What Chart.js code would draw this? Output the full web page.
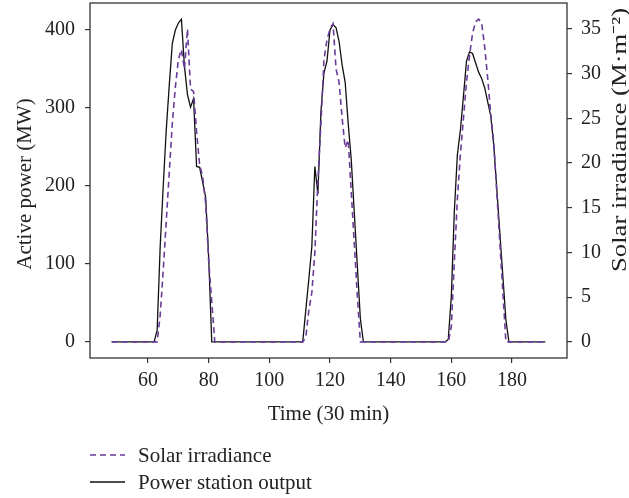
<!DOCTYPE html>
<html>
<head>
<meta charset="utf-8">
<script src="https://cdn.jsdelivr.net/npm/chart.js@4.4.0/dist/chart.umd.min.js"></script>
<style>
html,body{margin:0;padding:0;background:#fff;}
#wrap{position:relative;width:629px;height:498px;overflow:hidden;}
#chart{position:absolute;left:0;top:0;}
.lg{position:absolute;left:90px;height:24px;display:flex;align-items:center;font-family:"Liberation Serif",serif;font-size:21px;color:#222;white-space:nowrap;}
.lg svg{margin-right:13px;}
</style>
</head>
<body>
<div id="wrap">
<canvas id="chart" width="629" height="498"></canvas>
<div class="lg" style="top:443px;"><svg width="35" height="4"><line x1="0" y1="2" x2="35" y2="2" stroke="#6a3d9a" stroke-width="1.6" stroke-dasharray="6,4"/></svg><span>Solar irradiance</span></div>
<div class="lg" style="top:470px;"><svg width="35" height="4"><line x1="0" y1="2" x2="35" y2="2" stroke="#111" stroke-width="1.4"/></svg><span>Power station output</span></div>
</div>
<script>
// ---- data (time step = 30 min) ----
const timeSteps = [48,49,50,51,52,53,54,55,56,57,58,59,60,61,62,63,64,65,66,67,68,69,70,71,72,73,74,75,76,77,78,79,80,81,82,83,84,85,86,87,88,89,90,91,92,93,94,95,96,97,98,99,100,101,102,103,104,105,106,107,108,109,110,111,112,113,114,115,116,117,118,119,120,121,122,123,124,125,126,127,128,129,130,131,132,133,134,135,136,137,138,139,140,141,142,143,144,145,146,147,148,149,150,151,152,153,154,155,156,157,158,159,160,161,162,163,164,165,166,167,168,169,170,171,172,173,174,175,176,177,178,179,180,181,182,183,184,185,186,187,188,189,190,191];

const powerOutput = [
  0,0,0,0,0,0,0,0,0,0,0,0,0,0,0,
  15,123,200,272,330,383,400,409,414,353,317,301,312,225,224,205,185,107,0,
  0,0,0,0,0,0,0,0,0,0,0,0,0,0,0,0,0,0,0,0,0,0,0,0,0,0,0,0,0,0,
  40,80,122,225,190,295,345,360,400,407,403,385,355,333,280,234,166,98,30,
  0,0,0,0,0,0,0,0,0,0,0,0,0,0,0,0,0,0,0,0,0,0,0,0,0,0,0,0,
  3,58,168,240,272,315,360,372,370,358,346,338,326,308,290,252,196,140,84,28,
  0,0,0,0,0,0,0,0,0,0,0,0,0
];

const solarIrradiance = [
  0,0,0,0,0,0,0,0,0,0,0,0,0,0,0,0,
  3,8,13.5,19,24.5,28.5,31.6,32.7,30.5,35,28.3,28,23.5,19.8,18.5,15.5,9,4.5,0,
  0,0,0,0,0,0,0,0,0,0,0,0,0,0,0,0,0,0,0,0,0,0,0,0,0,0,0,0,0,
  0.5,3.5,5.5,10,18,24.4,31.5,33.8,35,35.6,30.5,29,25,21.7,22.6,16.8,11,5.2,
  0,0,0,0,0,0,0,0,0,0,0,0,0,0,0,0,0,0,0,0,0,0,0,0,0,0,0,0,0,0,
  1.7,9,16,21,25,29,32,34.5,35.8,36.1,35.7,33,29.5,25.5,22.3,16.7,11.1,5.6,
  0,0,0,0,0,0,0,0,0,0,0,0,0,0
];

const timeTicks = [60,80,100,120,140,160,180];
const powerTicks = [0,100,200,300,400];
const irradianceTicks = [0,5,10,15,20,25,30,35];

const seriesNames = ['Solar irradiance','Power station output'];
const axisTitles = {x:'Time (30 min)', power:'Active power (MW)', irradiance:'Solar irradiance (M·m⁻²)'};

// ---- chart ----
const FONT = 'Liberation Serif';
const TXT = '#222';
const AX = '#333';

const framePlugin = {
  id:'frame',
  afterDraw(chart){
    const {ctx, chartArea:a} = chart;
    ctx.save();
    ctx.strokeStyle = AX; ctx.lineWidth = 1.3;
    ctx.strokeRect(a.left, a.top, a.right - a.left, a.bottom - a.top);
    ctx.fillStyle = TXT;
    ctx.textAlign = 'center'; ctx.textBaseline = 'middle';
    // left title
    ctx.font = '21px "' + FONT + '"';
    ctx.save();
    ctx.translate(25, 184);
    ctx.rotate(-Math.PI/2);
    ctx.fillText(axisTitles.power, 0, 0);
    ctx.restore();
    // right title (reads bottom to top, stretched as in the reference)
    ctx.save();
    ctx.translate(620, 140);
    ctx.rotate(-Math.PI/2);
    const w = ctx.measureText(axisTitles.irradiance).width;
    ctx.scale(264 / w, 1);
    ctx.fillText(axisTitles.irradiance, 0, 0);
    ctx.restore();
    ctx.restore();
  }
};

const tickFont = {family: FONT, size: 20};
const noPad = s => { s.paddingTop = 0; s.paddingBottom = 0; s.paddingLeft = 0; s.paddingRight = 0; };

new Chart(document.getElementById('chart'), {
  type: 'line',
  data: {
    datasets: [
      {
        label: seriesNames[0],
        data: timeSteps.map((t,i)=>({x:t, y:solarIrradiance[i]})),
        yAxisID: 'yIrr',
        borderColor: '#6a3d9a',
        borderWidth: 1.6,
        borderDash: [6,4],
        pointRadius: 0,
        fill: false,
        tension: 0
      },
      {
        label: seriesNames[1],
        data: timeSteps.map((t,i)=>({x:t, y:powerOutput[i]})),
        yAxisID: 'yPow',
        borderColor: '#111',
        borderWidth: 1.3,
        pointRadius: 0,
        fill: false,
        tension: 0
      }
    ]
  },
  options: {
    responsive: false,
    animation: false,
    events: [],
    layout: {padding: {top: 3, left: 0, right: 0, bottom: 70}},
    plugins: {legend: {display: false}, tooltip: {enabled: false}},
    scales: {
      x: {
        type: 'linear',
        min: 40.85, max: 198.15,
        afterBuildTicks: s => { s.ticks = timeTicks.map(v => ({value: v})); },
        afterFit: s => { s.height = 70; noPad(s); },
        grid: {drawOnChartArea: false, drawTicks: true, tickLength: 5, color: AX, lineWidth: 1.2},
        border: {display: false},
        ticks: {font: tickFont, color: TXT, padding: 6, maxRotation: 0, autoSkip: false},
        title: {display: true, text: axisTitles.x, font: {family: FONT, size: 21}, color: TXT, padding: {top: 0, bottom: 1}}
      },
      yPow: {
        type: 'linear', position: 'left',
        min: -20.7, max: 434.7,
        afterBuildTicks: s => { s.ticks = powerTicks.map(v => ({value: v})); },
        afterFit: s => { s.width = 90; noPad(s); },
        grid: {drawOnChartArea: false, drawTicks: true, tickLength: 5, color: AX, lineWidth: 1.2},
        border: {display: false},
        ticks: {font: tickFont, color: TXT, padding: 10}
      },
      yIrr: {
        type: 'linear', position: 'right',
        min: -1.805, max: 37.905,
        afterBuildTicks: s => { s.ticks = irradianceTicks.map(v => ({value: v})); },
        afterFit: s => { s.width = 62; noPad(s); },
        grid: {drawOnChartArea: false, drawTicks: true, tickLength: 5, color: AX, lineWidth: 1.2},
        border: {display: false},
        ticks: {font: tickFont, color: TXT, padding: 9}
      }
    }
  },
  plugins: [framePlugin]
});
</script>
</body>
</html>
